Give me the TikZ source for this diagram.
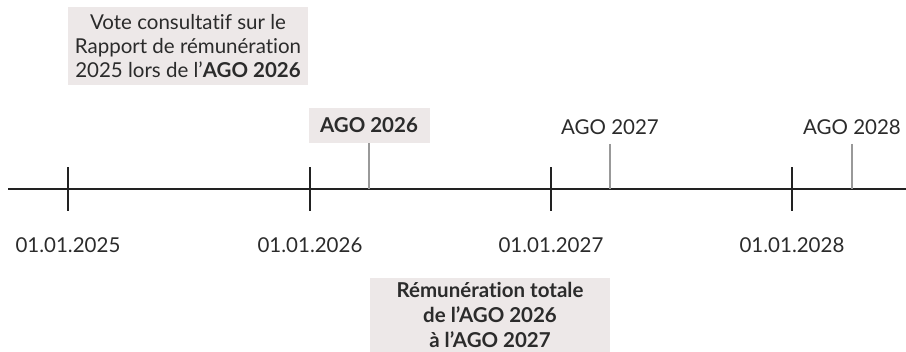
\documentclass[tikz,border=0pt]{standalone}
\usepackage{fontspec}
\setmainfont[Ligatures=NoCommon]{Lato}
\usepackage{tikz}
\usetikzlibrary{positioning}
\definecolor{boxFill}{HTML}{EDE8E8}
\definecolor{axisInk}{HTML}{222222}
\definecolor{agoInk}{HTML}{999999}
\definecolor{textInk}{HTML}{2B2B2B}
\tikzset{
  tlNote/.style={fill=boxFill, align=center, text=textInk, font=\fontsize{20.5}{24}\selectfont, inner sep=0pt},
  tlDate/.style={text=textInk, font=\fontsize{20.5}{24}\selectfont, inner sep=0pt},
  tlAxis/.style={draw=axisInk, line width=2.5pt},
  tlYearTick/.style={draw=axisInk, line width=2.5pt},
  tlAgoTick/.style={draw=agoInk, line width=2pt}
}

\begin{document}
\begin{tikzpicture}[x=1pt, y=-1pt]
      \useasboundingbox (0,0) rectangle (906,352);

      % axis and year ticks
      \coordinate (axisStart) at (8,189);
      \coordinate (axisEnd) at (906,189);
      \draw[tlAxis] (axisStart) -- (axisEnd);

      \coordinate (y25) at (68,189);
      \coordinate (y26) at (310,189);
      \coordinate (y27) at (551,189);
      \coordinate (y28) at (792,189);
      \foreach \yr in {y25,y26,y27,y28} {
        \draw[tlYearTick] ([yshift=-22pt]\yr) -- ([yshift=22pt]\yr);
      }
      \node[tlDate] (d25) at (68,245) {01.01.2025};
      \node[tlDate] (d26) at (310,245) {01.01.2026};
      \node[tlDate] (d27) at (551,245) {01.01.2027};
      \node[tlDate] (d28) at (792,245) {01.01.2028};

      % AGO markers
      \coordinate (ago26) at (369,189);
      \coordinate (ago27) at (610,189);
      \coordinate (ago28) at (852,189);
      \node[tlNote, minimum width=121pt, minimum height=35pt] (agoBox26) at (369,125.5) {\textbf{AGO 2026}};
      \node[tlDate] (agoLbl27) at (610,127) {AGO 2027};
      \node[tlDate] (agoLbl28) at (852,127) {AGO 2028};
      \draw[tlAgoTick] (agoBox26.south) -- (ago26);
      \draw[tlAgoTick] (ago27 |- 0,144) coordinate (t27) -- (ago27);
      \draw[tlAgoTick] (ago28 |- 0,144) coordinate (t28) -- (ago28);

      % notes
      \node[tlNote, minimum width=240pt, minimum height=78pt] (voteNote) at (188,46)
        {Vote consultatif sur le\\Rapport de rémunération\\2025 lors de l’\textbf{AGO 2026}};
      \node[tlNote, minimum width=240pt, minimum height=74pt, font=\fontsize{20.5}{25}\selectfont\bfseries] (payNote) at (490,315)
        {Rémunération totale\\de l’AGO 2026\\à l’AGO 2027};
    \end{tikzpicture}
\end{document}
